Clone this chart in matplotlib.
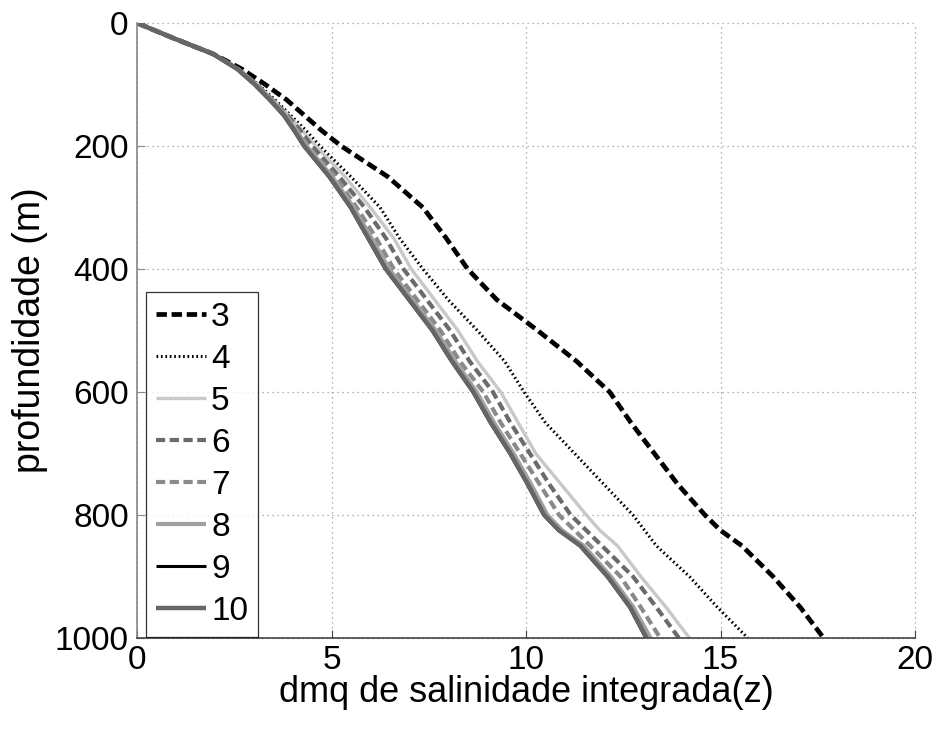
import matplotlib
matplotlib.use("Agg")
import matplotlib.pyplot as plt

plt.rcParams['font.family'] = ['Liberation Sans', 'DejaVu Sans']

# depth levels (m)
depth = [0, 25, 50, 75, 100, 125, 150, 175, 200, 250, 300, 350, 400, 450,
         500, 550, 600, 650, 700, 750, 800, 825, 850, 900, 950, 1000]

# integrated salinity rms difference for each case
c3 = [0, 0.95, 1.95, 2.7, 3.3, 3.85, 4.3, 4.75, 5.25, 6.45, 7.35, 7.95, 8.5, 9.25,
      10.3, 11.3, 12.15, 12.7, 13.3, 13.9, 14.6, 15.0, 15.55, 16.35, 17.05, 17.65]
c4 = [0, 0.95, 1.95, 2.62, 3.12, 3.55, 3.95, 4.35, 4.7, 5.5, 6.25, 6.75, 7.35, 8.0,
      8.75, 9.45, 9.95, 10.5, 11.25, 12.0, 12.75, 13.05, 13.35, 14.2, 14.92, 15.7]
c5 = [0, 0.95, 1.95, 2.61, 3.1, 3.5, 3.9, 4.25, 4.6, 5.35, 6.0, 6.6, 7.05, 7.65,
      8.25, 8.75, 9.35, 9.8, 10.25, 10.9, 11.55, 11.9, 12.35, 12.95, 13.6, 14.2]
c6 = [0, 0.95, 1.95, 2.6, 3.08, 3.48, 3.87, 4.2, 4.5, 5.2, 5.85, 6.4, 6.85, 7.45,
      8.05, 8.55, 9.15, 9.6, 10.1, 10.6, 11.15, 11.55, 11.95, 12.75, 13.35, 13.93]
c7 = [0, 0.95, 1.95, 2.6, 3.06, 3.46, 3.83, 4.13, 4.4, 5.1, 5.65, 6.15, 6.6, 7.2,
      7.8, 8.3, 8.9, 9.35, 9.85, 10.35, 10.85, 11.25, 11.65, 12.43, 12.95, 13.45]
c8 = [0, 0.95, 1.96, 2.59, 3.05, 3.45, 3.82, 4.1, 4.36, 5.02, 5.57, 6.03, 6.48, 7.08,
      7.68, 8.18, 8.73, 9.18, 9.68, 10.13, 10.55, 10.93, 11.48, 12.18, 12.76, 13.2]
c9 = [0, 0.94, 1.93, 2.57, 3.01, 3.4, 3.76, 4.03, 4.28, 4.93, 5.48, 5.93, 6.38, 6.98,
      7.58, 8.08, 8.63, 9.08, 9.58, 10.03, 10.45, 10.83, 11.38, 12.08, 12.66, 13.08]
c10 = [0, 0.95, 1.95, 2.58, 3.03, 3.42, 3.78, 4.05, 4.3, 4.95, 5.5, 5.95, 6.4, 7.0,
       7.6, 8.1, 8.65, 9.1, 9.6, 10.05, 10.47, 10.85, 11.4, 12.1, 12.68, 13.1]

labels = ['3', '4', '5', '6', '7', '8', '9', '10']
xticks = [0, 5, 10, 15, 20]
yticks = [0, 200, 400, 600, 800, 1000]

fig = plt.figure(figsize=(9.41, 7.29), dpi=100)
ax = fig.add_axes([0.1456, 0.1248, 0.8268, 0.8436])

styles = [
    dict(color='black', lw=3.4, dashes=(2.2, 1.0)),
    dict(color='black', lw=2.2, dashes=(0.55, 0.9)),
    dict(color='#c8c8c8', lw=2.4, linestyle='-'),
    dict(color='#6a6a6a', lw=3.0, dashes=(2.2, 1.1)),
    dict(color='#8a8a8a', lw=3.0, dashes=(2.2, 1.1)),
    dict(color='#a0a0a0', lw=3.0, linestyle='-'),
    dict(color='black', lw=2.2, linestyle='-'),
    dict(color='#666666', lw=3.2, linestyle='-'),
]
series = [c3, c4, c5, c6, c7, c8, c9, c10]
for vals, lab, st in zip(series, labels, styles):
    ax.plot(vals, depth, label=lab, solid_capstyle='butt', dash_capstyle='butt',
            solid_joinstyle='round', **st)

ax.set_xlim(0, 20)
ax.set_ylim(1000, 0)
ax.set_xticks(xticks)
ax.set_yticks(yticks)
ax.tick_params(direction='in', length=6, labelsize=24, colors='black')
ax.tick_params(axis='y', color='#888888', pad=6)
ax.tick_params(axis='x', color='#444444', pad=5)
ax.grid(True, linestyle=(0, (1, 3)), color='#999999', linewidth=0.9)
for gl in ax.get_xgridlines() + ax.get_ygridlines():
    gl.set_clip_on(False)
ax.spines['top'].set_visible(False)
ax.spines['right'].set_visible(False)
ax.spines['left'].set_color('#888888')
ax.spines['bottom'].set_color('#444444')
ax.spines['left'].set_linewidth(1.2)
ax.spines['bottom'].set_linewidth(1.2)

ax.set_xlabel('dmq de salinidade integrada(z)', fontsize=26, labelpad=-1)
ax.set_ylabel('profundidade (m)', fontsize=27, labelpad=5)

leg = ax.legend(loc='lower left', bbox_to_anchor=(0.0116, 0.002), borderaxespad=0,
                fontsize=24, handlelength=1.5, handletextpad=0.15, labelspacing=0.33,
                frameon=True, fancybox=False, borderpad=0.3)
leg.get_frame().set_edgecolor('black')
leg.get_frame().set_linewidth(0.9)

fig.savefig('out.png', dpi=100)
